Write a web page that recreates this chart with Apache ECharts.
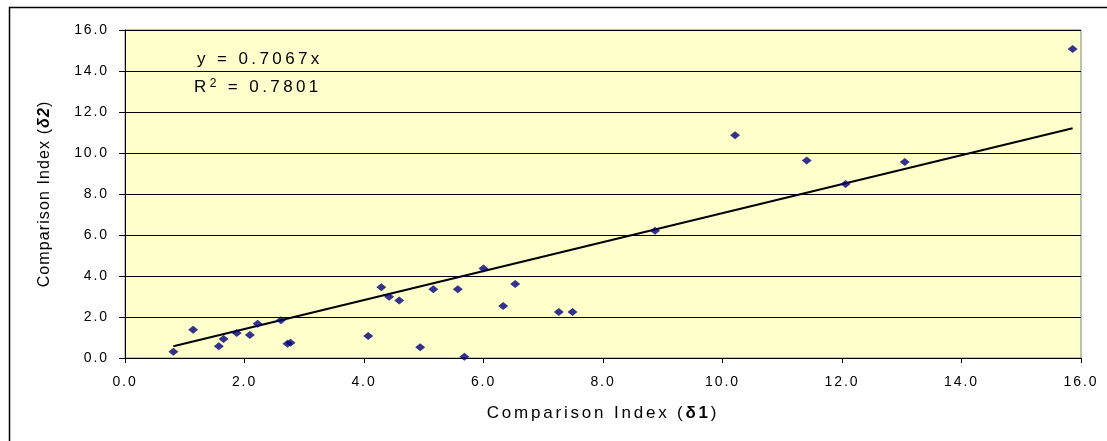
<!DOCTYPE html>
<html><head><meta charset="utf-8">
<script src="https://cdn.jsdelivr.net/npm/echarts@6/dist/echarts.min.js"></script>
<style>html,body{margin:0;padding:0;background:#fff}#c{width:1107px;height:441px}</style>
</head><body><div id="c"></div>
<script>
// ---- data ----
const xValues = [0.81,1.14,1.57,1.65,1.87,2.09,2.22,2.61,2.72,2.77,4.07,4.29,4.42,4.59,4.94,5.16,5.57,5.68,6.00,6.33,6.53,7.26,7.49,8.87,10.21,11.41,12.06,13.05,15.86];
const yValues = [0.31,1.38,0.57,0.93,1.22,1.12,1.67,1.84,0.70,0.75,1.07,3.45,2.99,2.80,0.52,3.35,3.35,0.06,4.37,2.54,3.61,2.24,2.24,6.21,10.86,9.64,8.49,9.56,15.07];
const trendSlope = 0.7067;
const rSquared = 0.7801;
const axisMin = 0, axisMax = 16, axisStep = 2;

// ---- letter spacing emulation (Excel-style spaced text), keyed by marker family ----
const LS = {lsA:'1.9px', lsB:'2.8px', lsC:'3.4px', lsD:'1.1px'};
function lsFor(font){ for (const k in LS) if (font.indexOf(k) >= 0) return LS[k]; return '0px'; }
(function(){
  const P = CanvasRenderingContext2D.prototype;
  if (!('letterSpacing' in P)) return;
  const of = P.fillText, om = P.measureText;
  P.fillText = function(){ this.letterSpacing = lsFor(this.font); return of.apply(this, arguments); };
  P.measureText = function(){ this.letterSpacing = lsFor(this.font); return om.apply(this, arguments); };
})();

const FT = "lsA, 'Liberation Sans', Arial, sans-serif";
const FX = "lsB, 'Liberation Sans', Arial, sans-serif";
const FE = "lsC, 'Liberation Sans', Arial, sans-serif";
const FY = "lsD, 'Liberation Sans', Arial, sans-serif";

const points = xValues.map((x, i) => [x, yValues[i]]);
const xLo = Math.min(...xValues), xHi = Math.max(...xValues);
const trend = [[xLo, trendSlope * xLo], [xHi, trendSlope * xHi]];

const chart = echarts.init(document.getElementById('c'), null, {renderer: 'canvas'});
chart.setOption({
  animation: false,
  backgroundColor: '#ffffff',
  grid: {left: 125, right: 26, top: 30, bottom: 83, show: true, backgroundColor: '#FFFFCC', borderColor: '#808080', borderWidth: 1},
  xAxis: {
    type: 'value', min: axisMin, max: axisMax, interval: axisStep,
    name: 'Comparison Index ({b|δ1})', nameLocation: 'middle', nameGap: 45,
    nameTextStyle: {fontFamily: FX, fontSize: 17, color: '#000', rich: {b: {fontFamily: FX, fontSize: 17, fontWeight: 'bold', color: '#000'}}},
    axisLine: {show: true, lineStyle: {color: '#000', width: 1}},
    axisTick: {show: true, length: 5, lineStyle: {color: '#000'}},
    axisLabel: {margin: 16, fontFamily: FT, fontSize: 14, color: '#000', formatter: v => v.toFixed(1)},
    splitLine: {show: false}
  },
  yAxis: {
    type: 'value', min: axisMin, max: axisMax, interval: axisStep,
    name: 'Comparison Index ({b|δ2})', nameLocation: 'middle', nameGap: 72,
    nameTextStyle: {fontFamily: FY, fontSize: 16, color: '#000', rich: {b: {fontFamily: FY, fontSize: 16, fontWeight: 'bold', fontStyle: 'italic', color: '#000'}}},
    axisLine: {show: true, lineStyle: {color: '#000', width: 1}},
    axisTick: {show: true, length: 6, lineStyle: {color: '#000'}},
    axisLabel: {margin: 16, fontFamily: FT, fontSize: 14, color: '#000', formatter: v => v.toFixed(1)},
    splitLine: {show: true, lineStyle: {color: '#000', width: 1}}
  },
  series: [
    {type: 'line', data: trend, symbol: 'none', lineStyle: {color: '#000', width: 2}, z: 2, silent: true},
    {type: 'scatter', data: points, symbol: 'diamond', symbolSize: [10, 8], itemStyle: {color: '#00007A'}, z: 3}
  ],
  graphic: [
    {type: 'rect', left: 7, top: 5, shape: {width: 1200, height: 500}, style: {fill: 'none', stroke: '#000', lineWidth: 1.5}, z: -10, silent: true},
    {type: 'text', x: 197, y: 59, style: {text: 'y = ' + trendSlope.toFixed(4) + 'x', font: '17px ' + FE, fill: '#000', verticalAlign: 'middle', textVerticalAlign: 'middle'}, z: 10},
    {type: 'text', x: 194, y: 87, style: {text: 'R{s|2} = ' + rSquared.toFixed(4), font: '17px ' + FE, fill: '#000', verticalAlign: 'middle', textVerticalAlign: 'middle',
      rich: {s: {fontFamily: FE, fontSize: 12, verticalAlign: 'top', lineHeight: 22, padding: [0, 0, 0, 0]}}}, z: 10}
  ]
});
</script></body></html>
